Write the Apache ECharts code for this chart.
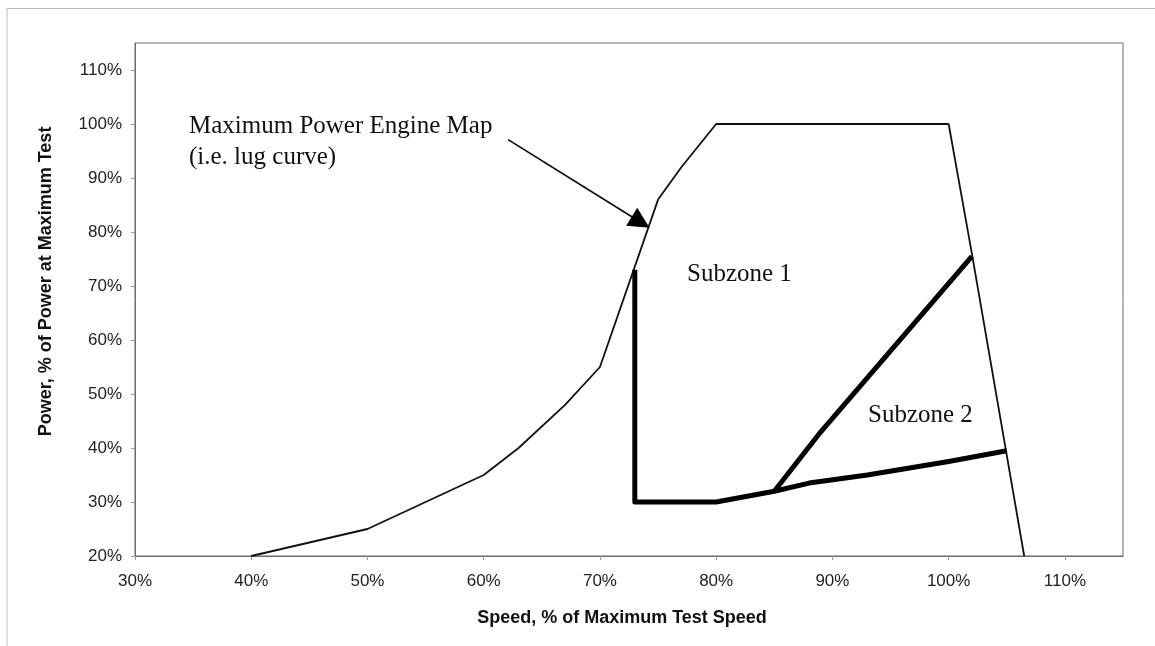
<!DOCTYPE html>
<html>
<head>
<meta charset="utf-8">
<script src="https://cdn.jsdelivr.net/npm/echarts@6/dist/echarts.min.js"></script>
<style>
html,body{margin:0;padding:0;background:#fff;}
#chart{width:1155px;height:646px;}
</style>
</head>
<body>
<div id="chart"></div>
<script>
// Lug curve (maximum power engine map)
var lugSpeed = [40, 50, 60, 63, 67, 70, 75, 77, 80, 100, 102, 106.5];
var lugPower = [20, 25, 35, 40, 48, 55, 86, 92, 100, 100, 76, 20];
// Subzone boundary: vertical + lower limit
var lowerSpeed = [73, 73, 80, 85, 88, 93, 100, 105];
var lowerPower = [73, 30, 30, 32, 33.5, 35, 37.5, 39.5];
// Subzone 1 / 2 separator
var diagSpeed = [85, 89, 102];
var diagPower = [32, 43, 75.5];
// Arrow pointing at the lug curve (tail, head centre)
var arrowSpeed = [62.1, 73.5];
var arrowPower = [97.1, 81.8];
// Axis settings
var xMin = 30, xMax = 115, yMin = 20, yMax = 115, tickStep = 10;

function pairs(xs, ys) { return xs.map(function (x, i) { return [x, ys[i]]; }); }

var chart = echarts.init(document.getElementById('chart'), null, {renderer: 'canvas'});
var axisColor = '#6b6b6b';
var option = {
  backgroundColor: '#ffffff',
  animation: false,
  grid: {left: 135, right: 32, top: 43, bottom: 90, show: true, borderColor: axisColor, borderWidth: 1},
  xAxis: {
    type: 'value', min: xMin, max: xMax, interval: tickStep,
    name: 'Speed, % of Maximum Test Speed', nameLocation: 'middle', nameGap: 53,
    nameTextStyle: {fontFamily: 'Liberation Sans', fontWeight: 'bold', fontSize: 18, color: '#111', padding: [0, 14, 0, 0]},
    axisLine: {show: true, lineStyle: {color: axisColor, width: 1}},
    axisTick: {show: true, length: 4, lineStyle: {color: '#999'}},
    splitLine: {show: false},
    axisLabel: {showMaxLabel: false, formatter: '{value}%', margin: 17, fontFamily: 'Liberation Sans', fontSize: 17, color: '#222'}
  },
  yAxis: {
    type: 'value', min: yMin, max: yMax, interval: tickStep,
    name: 'Power, % of Power at Maximum Test', nameLocation: 'middle', nameGap: 80, nameRotate: 90,
    nameTextStyle: {fontFamily: 'Liberation Sans', fontWeight: 'bold', fontSize: 18, color: '#111', padding: [0, 0, 0, 36]},
    axisLine: {show: true, lineStyle: {color: axisColor, width: 1}},
    axisTick: {show: true, length: 4, lineStyle: {color: '#999'}},
    splitLine: {show: false},
    axisLabel: {showMaxLabel: false, formatter: '{value}%', margin: 13, fontFamily: 'Liberation Sans', fontSize: 17, color: '#222'}
  },
  series: [
    {
      name: 'Maximum Power Engine Map', type: 'line', data: pairs(lugSpeed, lugPower),
      showSymbol: false, symbol: 'none', lineStyle: {color: '#111', width: 1.8}, z: 3
    },
    {
      name: 'Lower boundary', type: 'line', data: pairs(lowerSpeed, lowerPower),
      showSymbol: false, symbol: 'none', lineStyle: {color: '#000', width: 5, join: 'round'}, z: 4
    },
    {
      name: 'Subzone separator', type: 'line', data: pairs(diagSpeed, diagPower),
      showSymbol: false, symbol: 'none', lineStyle: {color: '#000', width: 5, join: 'round'}, z: 4
    },
    {
      name: 'Arrow', type: 'lines', coordinateSystem: 'cartesian2d',
      symbol: ['none', 'triangle'], symbolSize: [0, 21],
      lineStyle: {color: '#000', width: 1.6, curveness: 0, opacity: 1},
      data: [{coords: pairs(arrowSpeed, arrowPower)}], z: 5
    }
  ],
  graphic: [
    {type: 'polyline', shape: {points: [[7, 700], [7, 8.5], [1155, 8.5]]}, style: {stroke: '#bdbdbd', lineWidth: 1, fill: null}, silent: true},
    {type: 'text', left: 189, top: 114, style: {text: 'Maximum Power Engine Map', fontFamily: 'Liberation Serif', fontSize: 25, fill: '#111'}},
    {type: 'text', left: 189, top: 145, style: {text: '(i.e. lug curve)', fontFamily: 'Liberation Serif', fontSize: 25, fill: '#111'}},
    {type: 'text', left: 687, top: 262, style: {text: 'Subzone 1', fontFamily: 'Liberation Serif', fontSize: 25, fill: '#111'}},
    {type: 'text', left: 868, top: 403, style: {text: 'Subzone 2', fontFamily: 'Liberation Serif', fontSize: 25, fill: '#111'}}
  ]
};
chart.setOption(option);
</script>
</body>
</html>
